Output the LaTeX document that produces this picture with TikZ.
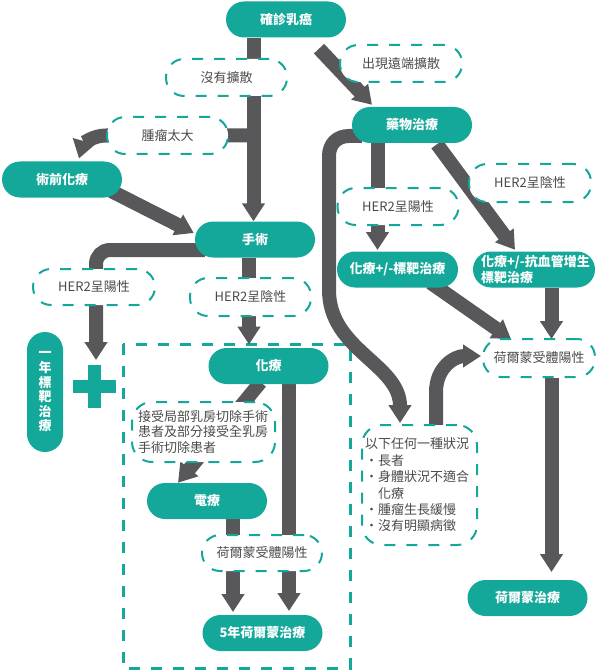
\documentclass[tikz,border=0pt]{standalone}
\usepackage{fontspec}
\setmainfont{Noto Sans CJK TC}
\usetikzlibrary{arrows.meta,calc}
\pgfdeclarelayer{bg}
\pgfsetlayers{bg,main}
\definecolor{teal1}{RGB}{20,168,154}
\definecolor{arrgray}{RGB}{88,88,90}
\definecolor{txtgray}{RGB}{75,75,75}
\begin{document}
\begin{tikzpicture}[x=1pt,y=-1pt,
  box/.style={fill=teal1, rounded corners=18pt, minimum width=120pt, minimum height=36pt, inner sep=0pt, text=white, font=\bfseries\fontsize{13}{15}\selectfont},
  cond/.style={draw=teal1, line width=2pt, dash pattern=on 11pt off 11pt, fill=white, rounded corners=18pt, minimum width=121pt, minimum height=37pt, inner sep=0pt, text=txtgray, font=\fontsize{13}{15.5}\selectfont},
  arr/.style={draw=arrgray, line width=14pt, -{Triangle[width=22pt,length=18pt]}},
  frame/.style={draw=teal1, line width=3pt, dash pattern=on 11pt off 11pt}
]
\useasboundingbox (0,0) rectangle (599,671);

% teal boxes
\node[box] (diag) at (286,19.5) {確診乳癌};
\node[box] (pre) at (62,179.5) {術前化療};
\node[box] (surg) at (255,239.5) {手術};
\node[box] (drug) at (412,125) {藥物治療};
\node[box, minimum width=121pt] (chemoT) at (397.5,269.5) {化療+/-標靶治療};
\node[box, minimum width=122pt, text width=112pt, inner xsep=5pt, align=left, font=\bfseries\fontsize{13}{16}\selectfont] (chemoA) at (534,269.5) {\hspace*{3pt}\mbox{化療+/-抗血管增生}\\\hspace*{3pt}\mbox{標靶治療}};
\node[box, minimum width=36pt, minimum height=120pt, align=center, font=\bfseries\fontsize{13}{14.6}\selectfont] (one) at (45,392) {一\\年\\標\\靶\\治\\療};
\node[box] (chemo) at (268.5,366) {化療};
\node[box] (radio) at (207,501) {電療};
\node[box] (five) at (262.5,633) {5年荷爾蒙治療};
\node[box] (horm) at (527.5,598) {荷爾蒙治療};

% dashed condition nodes
\node[cond] (c1) at (226.5,77.5) {沒有擴散};
\node[cond] (c2) at (167.5,135.5) {腫瘤太大};
\node[cond, minimum width=122pt] (c3) at (401,63.5) {出現遠端擴散};
\node[cond, minimum width=122pt, minimum height=38pt] (c4) at (530,183) {HER2呈陰性};
\node[cond] (c5) at (398,206.5) {HER2呈陽性};
\node[cond, minimum width=122pt, minimum height=36pt] (c6) at (94,287) {HER2呈陽性};
\node[cond, minimum height=38pt] (c7) at (250.5,297) {HER2呈陰性};
\node[cond, minimum width=143pt, minimum height=60pt, text width=131pt, inner xsep=6pt, align=left, rounded corners=20pt] (c8) at (203.5,432) {接受局部乳房切除手術\\患者及部分接受全乳房\\手術切除患者};
\node[cond, minimum width=120pt, minimum height=36pt] (c9) at (262,553) {荷爾蒙受體陽性};
\node[cond, minimum width=112pt, minimum height=38pt] (c10) at (539,358) {荷爾蒙受體陽性};
\node[cond, minimum width=115pt, minimum height=120pt, text width=109pt, inner xsep=3pt, align=left, rounded corners=20pt, font=\fontsize{13}{16.4}\selectfont] (c11) at (419.5,485) {以下任何一種狀況\\・長者\\・身體狀況不適合\\　化療\\・腫瘤生長緩慢\\・沒有明顯病徵};

% plus sign
\fill[teal1] (73,380) rectangle (116,393);
\fill[teal1] (88,365) rectangle (101,408);

% helper coordinates
\coordinate (j1) at (253.5,135.5);
\coordinate (k1) at (79,158.5);
\coordinate (b4) at (96,250);
\coordinate (p4) at (96,360);
\coordinate (a5) at (249,344.5);
\coordinate (a6) at (377.5,250);
\coordinate (a9) at (551.5,339);
\coordinate (a12) at (551.5,572);
\coordinate (a14) at (289,611);
\coordinate (a15) at (233,612);

\begin{pgfonlayer}{bg}
\draw[frame] (123,344) rectangle (350,668);
\draw[arr] (diag.south -| j1) -- (surg.north -| j1);
\draw[arr] (j1) -- (c2.west) .. controls +(-14,0) and +(4,-14) .. (k1);
\draw[arr] ($(pre.east)+(-12,11)$) -- ($(surg.west)+(-1,-6.5)$);
\draw[arr] ($(diag.south)+(33,11)$) -- ($(drug.north)+(-40,-2)$);
\draw[arr, rounded corners=14pt] ($(surg.west)+(10,10.5)$) -- (b4) -- (p4);
\draw[arr] (surg.south -| a5) -- (a5);
\draw[arr] (drug.south -| a6) -- (a6);
\draw[arr] ($(drug.south)+(25,1)$) -- ($(chemoA.north)+(-19,-1.5)$);
\draw[arr] ($(chemoT.south)+(33,-5)$) -- ($(c10.west)+(29,-19)$);
\draw[arr] (chemoA.south -| a9) -- (a9);
\draw[arr] ($(drug.west)+(10,11)$) -- (349,136) .. controls (337,136) and (329,144) .. (329,156) -- (329,290) .. controls (329,350) and (400,364) .. ($(c11.north)+(-19.5,-1)$);
\draw[arr] ($(c11.north)+(16.5,1)$) -- (436,392) .. controls (436,367) and (455,356) .. ($(c10.west)+(-1,-2)$);
\draw[arr] (c10.south -| a12) -- (a12);
\draw[arr] ($(chemo.south)+(-8,-2)$) -- ($(radio.north)+(-29,0)$);
\draw[arr] (chemo.south -| a14) -- (a14);
\draw[arr] (radio.south -| a15) -- (a15);
\end{pgfonlayer}
\end{tikzpicture}
\end{document}
